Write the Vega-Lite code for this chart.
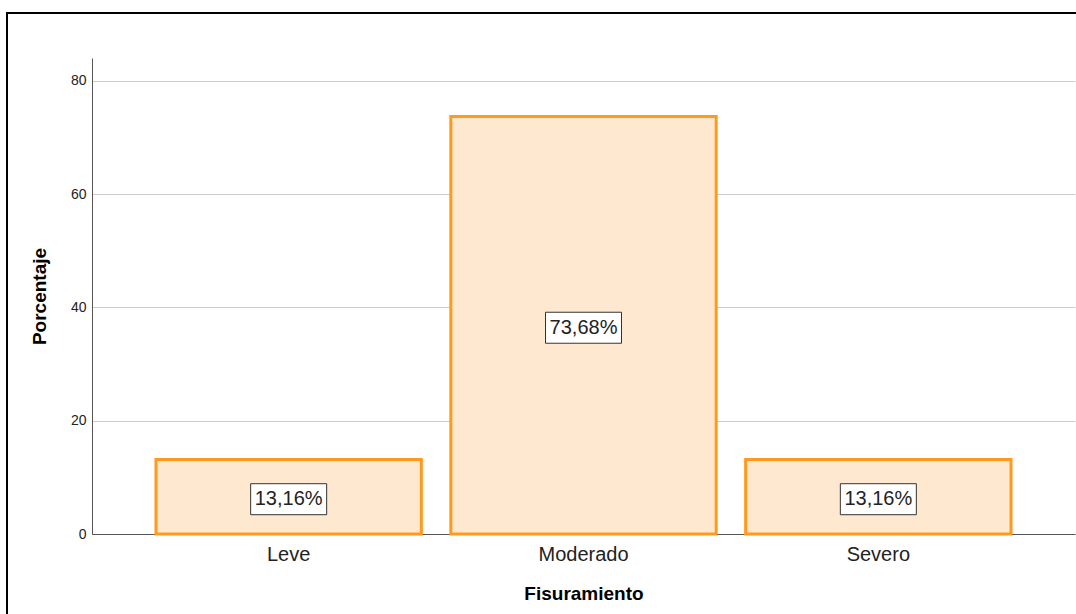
{
  "$schema": "https://vega.github.io/schema/vega-lite/v6.json",
  "width": 1090,
  "height": 620,
  "autosize": "none",
  "padding": {"left": 7, "top": 13, "right": 0, "bottom": 0},
  "background": "white",
  "config": {
    "font": "Liberation Sans",
    "locale": {"number": {"decimal": ",", "thousands": ".", "grouping": [3], "currency": ["", " €"]}},
    "view": {"stroke": "black", "strokeWidth": 2}
  },
  "data": {
    "values": [
      {"Fisuramiento": "Leve", "Porcentaje": 13.16},
      {"Fisuramiento": "Moderado", "Porcentaje": 73.68},
      {"Fisuramiento": "Severo", "Porcentaje": 13.16}
    ]
  },
  "transform": [
    {"calculate": "datum.Porcentaje / 2", "as": "centro"},
    {"calculate": "format(datum.Porcentaje, '.2f') + '%'", "as": "etiqueta"}
  ],
  "encoding": {
    "x": {
      "field": "Fisuramiento",
      "type": "nominal",
      "sort": null,
      "scale": {"range": [85, 1068], "paddingInner": 0.1, "paddingOuter": 0.217},
      "axis": {
        "offset": -99,
        "grid": false,
        "ticks": false,
        "domainColor": "#555555",
        "domainWidth": 1,
        "labelAngle": 0,
        "labelFontSize": 20,
        "labelColor": "#222222",
        "labelPadding": 10,
        "title": "Fisuramiento",
        "titleFontSize": 19,
        "titleFontWeight": "bold",
        "titleColor": "#000000",
        "titlePadding": 20
      }
    }
  },
  "layer": [
    {
      "mark": {"type": "bar", "fill": "#fee8cf", "stroke": "#ff9a1f", "strokeWidth": 3},
      "encoding": {
        "y": {
          "field": "Porcentaje",
          "type": "quantitative",
          "scale": {"domain": [0, 84], "range": [521, 45], "nice": false, "zero": true},
          "axis": {
            "offset": -85,
            "values": [0, 20, 40, 60, 80],
            "grid": true,
            "gridColor": "#cccccc",
            "gridWidth": 1,
            "ticks": false,
            "domainColor": "#555555",
            "domainWidth": 1,
            "labelFontSize": 14,
            "labelColor": "#222222",
            "labelPadding": 6,
            "title": "Porcentaje",
            "titleFontSize": 19,
            "titleFontWeight": "bold",
            "titleColor": "#000000",
            "titlePadding": 21
          }
        }
      }
    },
    {
      "mark": {
        "type": "point",
        "shape": "M-1,-0.408H1V0.408H-1Z",
        "size": 5776,
        "filled": true,
        "fill": "#ffffff",
        "stroke": "#333333",
        "strokeWidth": 1,
        "opacity": 1,
        "yOffset": 2.5
      },
      "encoding": {
        "y": {"field": "centro", "type": "quantitative"}
      }
    },
    {
      "mark": {"type": "text", "fontSize": 20, "color": "#222222", "baseline": "middle", "yOffset": 2.5},
      "encoding": {
        "y": {"field": "centro", "type": "quantitative"},
        "text": {"field": "etiqueta", "type": "nominal"}
      }
    }
  ]
}
